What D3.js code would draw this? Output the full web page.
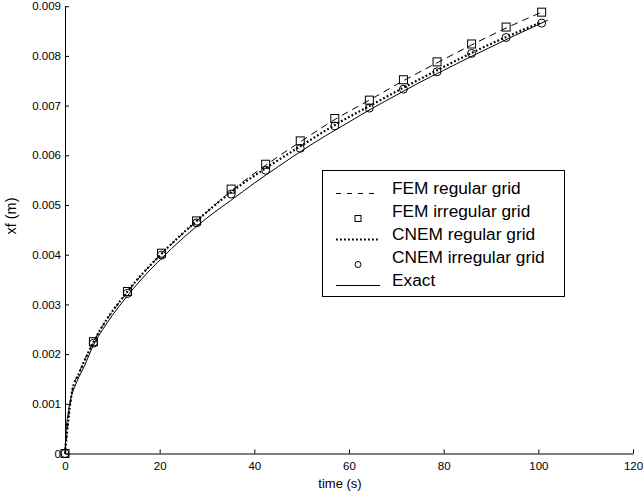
<!DOCTYPE html>
<html><head><meta charset="utf-8">
<script src="https://cdn.jsdelivr.net/npm/d3@7"></script>
<style>body{margin:0;background:#fff}svg{display:block}text{font-family:"Liberation Sans",Arial,Helvetica,sans-serif}</style>
</head><body><svg id="c" width="644" height="496"></svg>
<script>
const xTicks = [0, 20, 40, 60, 80, 100, 120];
const yTicks = [0, 0.001, 0.002, 0.003, 0.004, 0.005, 0.006, 0.007, 0.008, 0.009];
const yTickLabels = ["0", "0.001", "0.002", "0.003", "0.004", "0.005", "0.006", "0.007", "0.008", "0.009"];

const markerTimes = [0, 6, 13.2, 20.4, 27.8, 35.1, 42.4, 49.7, 57, 64.3, 71.5, 78.6, 85.9, 93.2, 100.7];
const femIrregular = [0, 0.00225, 0.00326, 0.00403, 0.00468, 0.00532, 0.00582, 0.00629, 0.00674, 0.00711, 0.00752, 0.00788, 0.00824, 0.00858, 0.00888];
const cnemIrregular = [0, 0.00222, 0.00322, 0.00399, 0.00464, 0.00522, 0.00570, 0.00614, 0.00659, 0.00695, 0.00733, 0.00768, 0.00805, 0.00837, 0.00866];

const regTimes = [0, 1.5, 3, 6, 13.2, 20.4, 27.8, 35.1, 42.4, 49.7, 57, 64.3, 71.5, 78.6, 85.9, 93.2, 100.7];
const femRegular = [0, 0.00125, 0.00163, 0.00224, 0.00325, 0.00402, 0.00467, 0.00528, 0.00580, 0.00627, 0.00672, 0.00711, 0.00750, 0.00786, 0.00822, 0.00856, 0.00888];
const cnemRegular = [0, 0.00125, 0.00162, 0.00224, 0.00326, 0.00402, 0.00468, 0.00526, 0.00574, 0.00618, 0.00661, 0.00699, 0.00736, 0.00771, 0.00806, 0.00838, 0.00868];

const exactTimes = [0, 0.25, 0.5, 1, 1.5, 2, 3, 4, 6, 8, 10, 13, 16, 20, 25, 30, 35, 40, 45, 50, 55, 60, 65, 70, 75, 80, 85, 90, 95, 100, 102];
const exactValues = [0, 0.00050, 0.00070, 0.00100, 0.00120, 0.00133, 0.00155, 0.00174, 0.00218, 0.00250, 0.00278, 0.00315, 0.00349, 0.00389, 0.00434, 0.00474, 0.00509, 0.00544, 0.00577, 0.00609, 0.00639, 0.00667, 0.00695, 0.00721, 0.00747, 0.00771, 0.00795, 0.00818, 0.00841, 0.00863, 0.00872];

const legendLabels = ["FEM regular grid", "FEM irregular grid", "CNEM regular grid", "CNEM irregular grid", "Exact"];

const svg = d3.select("#c");
const x = d3.scaleLinear().domain([0, 120]).range([65, 633]);
const y = d3.scaleLinear().domain([0, 0.009]).range([453.5, 6.2]);

// axes
const xAxis = d3.axisBottom(x).tickValues(xTicks).tickSizeInner(-4).tickSizeOuter(0).tickPadding(8);
const gx = svg.append("g").attr("transform", `translate(0,${y(0)})`).call(xAxis);
const yAxis = d3.axisLeft(y).tickValues(yTicks).tickFormat((d, i) => yTickLabels[i]).tickSizeInner(-4).tickSizeOuter(0).tickPadding(4);
const gy = svg.append("g").attr("transform", `translate(${x(0)},0)`).call(yAxis);
[gx, gy].forEach(g => {
  g.select(".domain").attr("stroke", "#000").attr("stroke-width", 1);
  g.selectAll(".tick line").attr("stroke", "#000");
  g.selectAll(".tick text").attr("fill", "#000").style("font-size", "11.5px");
});

svg.append("text").attr("x", 340).attr("y", 488).attr("text-anchor", "middle").style("font-size", "13px").text("time (s)");
svg.append("text").attr("transform", "translate(16,216) rotate(-90)").attr("text-anchor", "middle").style("font-size", "14.5px").text("xf (m)");

const plot = svg.append("g");
const mk = (ts, vs) => ts.map((t, i) => [t, vs[i]]);
const line = d3.line().x(d => x(d[0])).y(d => y(d[1])).curve(d3.curveMonotoneX);

plot.append("path").datum(mk(exactTimes, exactValues)).attr("d", line).attr("fill", "none").attr("stroke", "#000").attr("stroke-width", 1);
plot.append("path").datum(mk(regTimes, femRegular)).attr("d", line).attr("fill", "none").attr("stroke", "#000").attr("stroke-width", 1).attr("stroke-dasharray", "7,5");
plot.append("path").datum(mk(regTimes, cnemRegular)).attr("d", line).attr("fill", "none").attr("stroke", "#000").attr("stroke-width", 2.2).attr("stroke-dasharray", "1.8,2.2");

const sq = 8;
plot.selectAll("rect.fi").data(mk(markerTimes, femIrregular)).join("rect").attr("class", "fi")
  .attr("x", d => x(d[0]) - sq / 2).attr("y", d => y(d[1]) - sq / 2).attr("width", sq).attr("height", sq)
  .attr("fill", "none").attr("stroke", "#000").attr("stroke-width", 1);
plot.selectAll("circle.ci").data(mk(markerTimes, cnemIrregular)).join("circle").attr("class", "ci")
  .attr("cx", d => x(d[0])).attr("cy", d => y(d[1])).attr("r", 4)
  .attr("fill", "none").attr("stroke", "#000").attr("stroke-width", 1);

// legend
const lg = svg.append("g");
lg.append("rect").attr("x", 322.5).attr("y", 170.5).attr("width", 242).attr("height", 126).attr("fill", "#fff").attr("stroke", "#000").attr("stroke-width", 1);
const rowY = i => 193.5 + 23 * i;
const sx0 = 336, sx1 = 380, sxm = 358;
lg.append("line").attr("x1", sx0).attr("x2", sx1).attr("y1", rowY(0)).attr("y2", rowY(0)).attr("stroke", "#000").attr("stroke-dasharray", "5,6");
lg.append("rect").attr("x", sxm - 3).attr("y", rowY(1) + 2 - 3).attr("width", 6).attr("height", 6).attr("fill", "none").attr("stroke", "#000");
lg.append("line").attr("x1", sx0).attr("x2", sx1).attr("y1", rowY(2)).attr("y2", rowY(2)).attr("stroke", "#000").attr("stroke-width", 2.2).attr("stroke-dasharray", "1.8,2.2");
lg.append("circle").attr("cx", sxm).attr("cy", rowY(3) + 2).attr("r", 3).attr("fill", "none").attr("stroke", "#000");
lg.append("line").attr("x1", sx0).attr("x2", sx1).attr("y1", rowY(4)).attr("y2", rowY(4)).attr("stroke", "#000");
lg.selectAll("text.lt").data(legendLabels).join("text").attr("class", "lt")
  .attr("x", 392).attr("y", (d, i) => rowY(i)).style("font-size", "17.3px").text(d => d);
</script></body></html>
